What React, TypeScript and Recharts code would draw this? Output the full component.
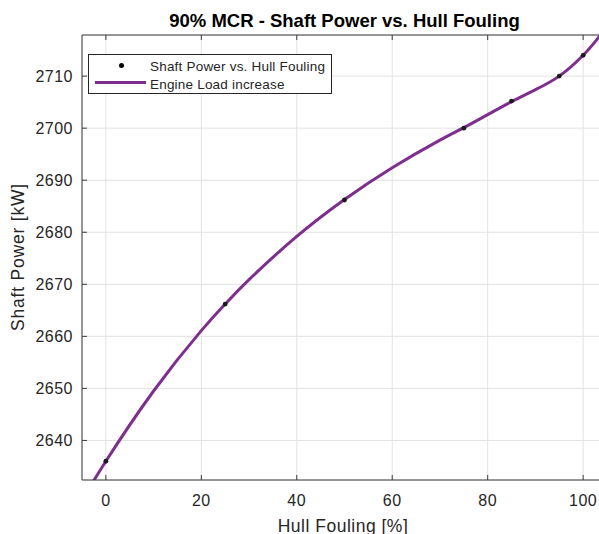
import {
  CartesianGrid,
  ComposedChart,
  Line,
  Scatter,
  XAxis,
  YAxis,
} from "recharts";

// measured samples
const pointX = [0, 25, 50, 75, 85, 95, 100];
const pointY = [2636, 2666.2, 2686.2, 2700, 2705.2, 2710, 2714];

// fitted curve
const curveX = [-5, 0, 10, 20, 25, 30, 40, 50, 60, 70, 75, 80, 85, 90, 95, 100, 103.2, 105];
const curveY = [
  2628.5, 2636, 2649.5, 2661.1, 2666.2, 2670.9, 2679.2, 2686.3, 2692.4, 2697.7, 2700.1, 2702.6, 2705.1,
  2707.4, 2710, 2714, 2717.4, 2719.5,
];

const xTicks = [0, 20, 40, 60, 80, 100];
const yTicks = [2640, 2650, 2660, 2670, 2680, 2690, 2700, 2710];

const TITLE = "90% MCR - Shaft Power vs. Hull Fouling";
const X_LABEL = "Hull Fouling [%]";
const Y_LABEL = "Shaft Power [kW]";
const SERIES_POINTS = "Shaft Power vs. Hull Fouling";
const SERIES_CURVE = "Engine Load increase";

const FONT = '"Liberation Sans", Arial, Helvetica, sans-serif';
const INK = "#262626";
const AXIS = "#3c3c3c";
const GRID = "#e2e2e2";
const PURPLE = "#7E2F8E";

const PLOT_LEFT = 82;
const PLOT_TOP = 35;
const PLOT_BOTTOM = 480;
const TICK_LEN = 5;

const points = pointX.map((x, i) => ({ x, y: pointY[i] }));
const curve = curveX.map((x, i) => ({ x, y: curveY[i] }));

function YTick({ y, payload }: any) {
  return (
    <g>
      <line x1={PLOT_LEFT} x2={PLOT_LEFT + TICK_LEN} y1={y} y2={y} stroke={AXIS} />
      <text
        x={PLOT_LEFT - 9}
        y={y}
        dy="0.36em"
        textAnchor="end"
        fill={INK}
        fontSize={16}
        fontFamily={FONT}
        letterSpacing={0.5}
      >
        {payload.value}
      </text>
    </g>
  );
}

function XTick({ x, payload }: any) {
  return (
    <g>
      <line x1={x} x2={x} y1={PLOT_BOTTOM} y2={PLOT_BOTTOM - TICK_LEN} stroke={AXIS} />
      <text x={x} y={506} textAnchor="middle" fill={INK} fontSize={16} fontFamily={FONT} letterSpacing={0.5}>
        {payload.value}
      </text>
    </g>
  );
}

function TopTick({ x }: any) {
  return <line x1={x} x2={x} y1={PLOT_TOP} y2={PLOT_TOP + TICK_LEN} stroke={AXIS} />;
}

function Dot({ cx, cy }: any) {
  return <circle cx={cx} cy={cy} r={2.4} fill="#1a1a1a" />;
}

function LegendBox() {
  return (
    <div
      style={{
        position: "absolute",
        left: 88,
        top: 54,
        width: 242,
        height: 38,
        border: `1px solid ${INK}`,
        background: "#fff",
        fontFamily: FONT,
        fontSize: 13.5,
        lineHeight: 1,
        color: INK,
        letterSpacing: 0.2,
      }}
    >
      <div
        style={{
          position: "absolute",
          left: 29.5,
          top: 7.5,
          width: 5,
          height: 5,
          borderRadius: "50%",
          background: "#000",
        }}
      />
      <div style={{ position: "absolute", left: 61, top: 5, whiteSpace: "nowrap" }}>{SERIES_POINTS}</div>
      <div style={{ position: "absolute", left: 6, top: 26, width: 51, height: 3, background: PURPLE }} />
      <div style={{ position: "absolute", left: 61, top: 22.5, whiteSpace: "nowrap" }}>{SERIES_CURVE}</div>
    </div>
  );
}

export default function App() {
  return (
    <div
      style={{
        position: "absolute",
        left: 0,
        top: 0,
        width: 599,
        height: 534,
        overflow: "hidden",
        background: "#fff",
      }}
    >
      <ComposedChart width={610} height={534} margin={{ top: 0, right: 3, bottom: 0, left: 0 }}>
        <CartesianGrid stroke={GRID} />
        <XAxis
          dataKey="x"
          type="number"
          domain={[-5, 105]}
          ticks={xTicks}
          allowDataOverflow
          height={54}
          axisLine={{ stroke: AXIS }}
          tickLine={false}
          tick={<XTick />}
        />
        <XAxis
          xAxisId="top"
          orientation="top"
          dataKey="x"
          type="number"
          domain={[-5, 105]}
          ticks={xTicks}
          allowDataOverflow
          height={35}
          axisLine={{ stroke: AXIS }}
          tickLine={false}
          tick={<TopTick />}
        />
        <YAxis
          dataKey="y"
          type="number"
          domain={[2632.4, 2717.9]}
          ticks={yTicks}
          allowDataOverflow
          width={82}
          axisLine={{ stroke: AXIS }}
          tickLine={false}
          tick={<YTick />}
        />
        <Line
          data={curve}
          dataKey="y"
          type="natural"
          stroke={PURPLE}
          strokeWidth={3}
          dot={false}
          activeDot={false}
          isAnimationActive={false}
        />
        <Scatter data={points} dataKey="y" shape={<Dot />} isAnimationActive={false} />
      </ComposedChart>
      <LegendBox />
      <div
        style={{
          position: "absolute",
          left: 344.5,
          top: 12,
          transform: "translateX(-50%)",
          whiteSpace: "nowrap",
          fontFamily: FONT,
          fontWeight: "bold",
          fontSize: 18.5,
          lineHeight: 1,
          color: "#000",
        }}
      >
        {TITLE}
      </div>
      <div
        style={{
          position: "absolute",
          left: 343,
          top: 517.5,
          transform: "translateX(-50%)",
          whiteSpace: "nowrap",
          fontFamily: FONT,
          fontSize: 17.5,
          lineHeight: 1,
          color: INK,
          letterSpacing: 0.5,
        }}
      >
        {X_LABEL}
      </div>
      <div
        style={{
          position: "absolute",
          left: 19.3,
          top: 256.7,
          transform: "translate(-50%, -50%) rotate(-90deg)",
          whiteSpace: "nowrap",
          fontFamily: FONT,
          fontSize: 17.5,
          lineHeight: 1,
          color: INK,
          letterSpacing: 0.8,
        }}
      >
        {Y_LABEL}
      </div>
    </div>
  );
}
